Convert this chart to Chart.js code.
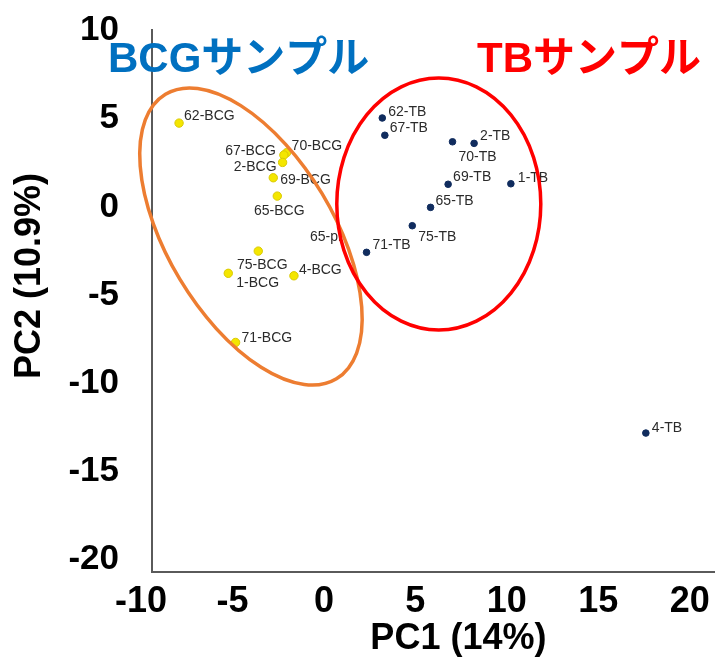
<!DOCTYPE html>
<html>
<head>
<meta charset="utf-8">
<script src="https://cdn.jsdelivr.net/npm/chart.js@4.4.1/dist/chart.umd.min.js"></script>
<style>
  html, body { margin: 0; padding: 0; background: #ffffff; }
  #wrap { width: 720px; height: 661px; }
</style>
</head>
<body>
<div id="wrap"><canvas id="c" width="720" height="661"></canvas></div>
<script>
// ---------- data ----------
const bcgLabels = ['62-BCG', '70-BCG', '67-BCG', '2-BCG', '69-BCG', '65-BCG', '75-BCG', '1-BCG', '4-BCG', '71-BCG'];
const bcgX = [-7.92, -2.04, -2.19, -2.26, -2.77, -2.55, -3.59, -5.23, -1.64, -4.83];
const bcgY = [4.75, 3.07, 2.94, 2.52, 1.65, 0.61, -2.51, -3.77, -3.91, -7.69];

const tbLabels = ['62-TB', '67-TB', '70-TB', '2-TB', '69-TB', '1-TB', '65-TB', '75-TB', '71-TB', '4-TB'];
const tbX = [3.19, 3.33, 7.03, 8.21, 6.79, 10.22, 5.83, 4.83, 2.33, 17.6];
const tbY = [5.04, 4.06, 3.69, 3.60, 1.28, 1.31, -0.03, -1.07, -2.58, -12.83];

const noteTexts = ['65-pr'];
const noteX = [-0.76];
const noteY = [-1.71];

const xTicks = [-10, -5, 0, 5, 10, 15, 20];
const yTicks = [10, 5, 0, -5, -10, -15, -20];

const groupTitles = ['BCGサンプル', 'TBサンプル'];

// ---------- layout / style (not data) ----------
const bcgLabelOffsets = [
  [5, -7, 'left'], [5, -7, 'left'], [-8, -4, 'right'], [-6, 5, 'right'], [7, 2, 'left'],
  [2, 15, 'center'], [4, 14, 'center'], [8, 10, 'left'], [5, -6, 'left'], [6, -4, 'left']
];
const tbLabelOffsets = [
  [6, -6, 'left'], [5, -7, 'left'], [6, 15, 'left'], [6, -7, 'left'], [5, -7, 'left'],
  [7, -6, 'left'], [5, -6, 'left'], [6, 11, 'left'], [6, -7, 'left'], [6, -5, 'left']
];
// ellipses: centre in data units, radii in px, rotation in degrees
const ellipses = [
  { cx: -3.99, cy: -1.68, rx: 166, ry: 83, rot: 59, color: '#ED7D31' },
  { cx: 6.28, cy: 0.16, rx: 102, ry: 126, rot: 0, color: '#FF0000' }
];

const FONT = '"Liberation Sans", Arial, Helvetica, sans-serif';

const pointLabelPlugin = {
  id: 'pointLabels',
  afterDatasetsDraw(chart) {
    const ctx = chart.ctx;
    const xs = chart.scales.x, ys = chart.scales.y;
    ctx.save();
    ctx.font = '14px ' + FONT;
    ctx.fillStyle = '#2b2b2b';
    ctx.textBaseline = 'middle';
    const sets = [[bcgLabels, bcgX, bcgY, bcgLabelOffsets], [tbLabels, tbX, tbY, tbLabelOffsets]];
    sets.forEach(([labs, X, Y, offs]) => {
      labs.forEach((t, i) => {
        const px = xs.getPixelForValue(X[i]);
        const py = ys.getPixelForValue(Y[i]);
        ctx.textAlign = offs[i][2];
        ctx.fillText(t, px + offs[i][0], py + offs[i][1]);
      });
    });
    ctx.textAlign = 'left';
    noteTexts.forEach((t, i) => {
      ctx.fillText(t, xs.getPixelForValue(noteX[i]), ys.getPixelForValue(noteY[i]));
    });
    ellipses.forEach(e => {
      ctx.beginPath();
      ctx.ellipse(xs.getPixelForValue(e.cx), ys.getPixelForValue(e.cy), e.rx, e.ry, e.rot * Math.PI / 180, 0, Math.PI * 2);
      ctx.lineWidth = 3.5;
      ctx.strokeStyle = e.color;
      ctx.stroke();
    });
    ctx.restore();
  },
  afterDraw(chart) {
    const ctx = chart.ctx;
    ctx.save();
    ctx.font = 'bold 42px "Liberation Sans", Arial, "Noto Sans CJK JP", sans-serif';
    ctx.textBaseline = 'middle';
    ctx.textAlign = 'left';
    ctx.fillStyle = '#0070C0';
    ctx.fillText(groupTitles[0], 108, 60);
    ctx.fillStyle = '#FF0000';
    ctx.fillText(groupTitles[1], 477, 60);
    ctx.restore();
  }
};

const toPts = (X, Y) => X.map((x, i) => ({ x: x, y: Y[i] }));

new Chart(document.getElementById('c'), {
  type: 'scatter',
  data: {
    datasets: [
      {
        label: 'BCG',
        data: toPts(bcgX, bcgY),
        backgroundColor: '#F4E600',
        borderColor: '#D9C900',
        borderWidth: 1,
        pointRadius: 4.2,
        pointHoverRadius: 4.2
      },
      {
        label: 'TB',
        data: toPts(tbX, tbY),
        backgroundColor: '#102C5E',
        borderColor: '#102C5E',
        borderWidth: 1,
        pointRadius: 3.3,
        pointHoverRadius: 3.3
      }
    ]
  },
  options: {
    responsive: false,
    animation: false,
    devicePixelRatio: 1,
    layout: { padding: { top: 30, right: 5, left: 0, bottom: 0 } },
    plugins: { legend: { display: false }, tooltip: { enabled: false } },
    scales: {
      x: {
        type: 'linear',
        min: -9.4,
        max: 21.37,
        afterBuildTicks: (s) => { s.ticks = xTicks.map(v => ({ value: v })); },
        afterFit: (s) => { s.height = 89; s.paddingLeft = 0; s.paddingRight = 0; s.paddingTop = 0; s.paddingBottom = 0; },
        grid: { display: false, drawTicks: false },
        border: { display: true, color: '#5a5a5a', width: 2 },
        ticks: {
          autoSkip: false,
          maxRotation: 0,
          padding: 8,
          color: '#000',
          font: { family: FONT, size: 36, weight: 'bold' }
        },
        title: {
          display: true,
          text: '     PC1 (14%)',
          color: '#000',
          padding: { top: 0, bottom: 0 },
          font: { family: FONT, size: 36, weight: 'bold' }
        }
      },
      y: {
        type: 'linear',
        min: -20.71,
        max: 10.03,
        afterBuildTicks: (s) => { s.ticks = yTicks.map(v => ({ value: v })); },
        afterFit: (s) => { s.width = 152; s.paddingLeft = 0; s.paddingRight = 0; s.paddingTop = 0; s.paddingBottom = 0; },
        grid: { display: false, drawTicks: false },
        border: { display: true, color: '#5a5a5a', width: 2 },
        ticks: {
          autoSkip: false,
          padding: 33,
          color: '#000',
          font: { family: FONT, size: 35, weight: 'bold' }
        },
        title: {
          display: true,
          text: '     PC2 (10.9%)',
          color: '#000',
          padding: { top: 8, bottom: 0 },
          font: { family: FONT, size: 36, weight: 'bold' }
        }
      }
    }
  },
  plugins: [pointLabelPlugin]
});
</script>
</body>
</html>
